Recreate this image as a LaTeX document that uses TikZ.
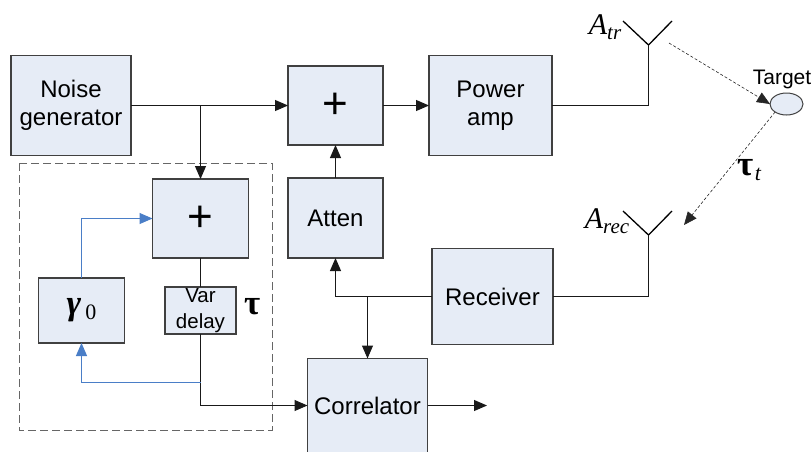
\documentclass[tikz,border=0pt]{standalone}
\usepackage{fontspec}
\setmainfont{Liberation Sans}
\newfontfamily\timesfont{Liberation Serif}
\usetikzlibrary{arrows.meta,shapes.geometric}
\definecolor{boxblue}{HTML}{E6ECF6}
\definecolor{boxedge}{HTML}{404040}
\definecolor{loopblue}{HTML}{4A7EC7}
\newcommand{\labeltext}[2]{{\timesfont\fontsize{30}{30}\selectfont\itshape #1}{\timesfont\fontsize{21}{21}\selectfont\itshape\raisebox{-5pt}{#2}}}
\newcommand{\greektext}[2]{{\timesfont\fontsize{35}{35}\selectfont\bfseries #1}\,{\timesfont\fontsize{22}{22}\selectfont\raisebox{-5pt}{#2}}}
\tikzset{
  blockbox/.style={draw=boxedge,fill=boxblue,line width=1.1pt,inner sep=0pt,outer sep=0pt,align=center,font=\fontsize{24}{28}\selectfont},
  plusbox/.style={blockbox,font=\fontsize{44}{44}\selectfont},
  wire/.style={black!90,line width=1pt},
  wirearrow/.style={wire,-{Triangle[length=13pt,width=11pt]}},
  loopwire/.style={loopblue,line width=1pt},
  looparrow/.style={loopwire,-{Triangle[length=13pt,width=11pt]}},
  airarrow/.style={black!85,densely dashed,line width=0.6pt,-{Triangle[length=13pt,width=11pt]}},
  antenna/.style={black,line width=1.3pt}
}
\begin{document}
\begin{tikzpicture}[x=1pt,y=-1pt]
  \useasboundingbox (0,0) rectangle (812,451);
  % Delay loop outline
  \draw[black!60,line width=0.8pt,dash pattern=on 8pt off 4pt] (19,163) rectangle (272,430);
  % Blocks
  \node[blockbox,minimum width=120pt,minimum height=100pt] (noisegen) at (71,105.5) {Noise\\generator};
  \node[plusbox,minimum width=95pt,minimum height=79pt] (plusa) at (335.5,105.5) {+};
  \node[blockbox,minimum width=123pt,minimum height=100pt] (poweramp) at (490.5,105.5) {Power\\amp};
  \node[blockbox,minimum width=95pt,minimum height=80pt] (atten) at (335.5,218) {Atten};
  \node[blockbox,minimum width=121pt,minimum height=96pt] (receiver) at (492.5,296.5) {Receiver};
  \node[blockbox,minimum width=120pt,minimum height=94pt] (correlator) at (367.5,405.5) {Correlator};
  \node[plusbox,minimum width=96pt,minimum height=79pt] (plusb) at (200.5,218.5) {+};
  \node[blockbox,minimum width=71pt,minimum height=47pt,font=\fontsize{20.5}{26}\selectfont] (vardelay) at (200.5,310.5) {Var\\delay};
  \node[blockbox,minimum width=86pt,minimum height=65pt] (gammabox) at (81.5,310.5) {\greektext{\itshape γ}{0}};
  \node[draw=boxedge,fill=boxblue,ellipse,line width=1pt,inner sep=0pt,outer sep=0pt,minimum width=33pt,minimum height=22pt] (target) at (786.5,104) {};
  % Labels
  \node[font=\fontsize{21}{21}\selectfont] (targetlabel) at (782,79) {Target};
  \node (vardelaytau) at (253,309) {\greektext{τ}{}};
  \node (airtau) at (749,170) {\greektext{τ}{\itshape t}};
  \node (trlabel) at (605,27) {\labeltext{A}{tr}};
  \node (reclabel) at (607,221) {\labeltext{A}{rec}};
  % Antennas
  \coordinate (trbase) at (648.5,45);
  \coordinate (recbase) at (648.5,235);
  \draw[antenna] (623,21) -- (trbase) -- (672,21);
  \draw[antenna] (623,211) -- (recbase) -- (672,211);
  \draw[wire] (poweramp.east) -| (trbase);
  \draw[wire] (receiver.east) -| (recbase);
  % Paths through the air
  \coordinate (traystart) at (669,43);
  \coordinate (rayend) at (684,225);
  \draw[airarrow] (traystart) -- (target.west);
  \draw[airarrow] (target.215) -- (rayend);
  % Forward wires
  \draw[wirearrow] (noisegen.east) -- (plusa.west);
  \draw[wirearrow] (plusb |- noisegen.east) -- (plusb.north);
  \draw[wirearrow] (plusa.east) -- (poweramp.west |- plusa.east);
  \draw[wirearrow] (atten.north) -- (plusa.south);
  \draw[wirearrow] (receiver.west) -| (atten.south);
  \draw[wirearrow] (correlator.north |- receiver.west) -- (correlator.north);
  \draw[wire] (plusb.south) -- (vardelay.north);
  \draw[wirearrow] (vardelay.south) |- (correlator.west);
  \coordinate (outend) at (487,405.5);
  \draw[wirearrow] (correlator.east) -- (outend);
  % Feedback
  \coordinate (looptap) at (200.5,382.5);
  \draw[looparrow] (looptap) -| (gammabox.south);
  \draw[looparrow] (gammabox.north) |- (plusb.west);
\end{tikzpicture}
\end{document}
